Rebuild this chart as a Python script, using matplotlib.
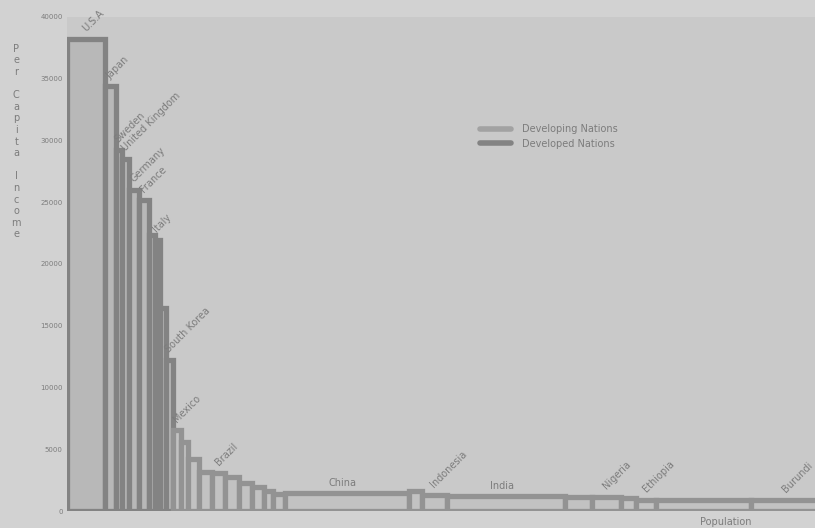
import numpy as np
import matplotlib.pyplot as plt
from matplotlib.lines import Line2D

# population (millions) -> bar width, income per capita -> bar height
countries = ["U.S.A", "Japan", "Sweden", "United Kingdom", "Germany", "France",
             "", "Italy", "", "South Korea", "Mexico", "", "", "", "Brazil",
             "", "", "", "", "", "China", "", "Indonesia", "India", "",
             "Nigeria", "", "Ethiopia", "", "Burundi"]
population = [380, 110, 60, 70, 100, 100, 60, 50, 60, 70, 80, 70, 110, 140, 130,
              140, 130, 120, 90, 120, 1240, 130, 250, 1180, 270, 300, 150, 200,
              950, 700]
income = [38200, 34400, 29200, 28500, 26000, 25200, 22350, 21950, 16400, 12200,
          6550, 5600, 4200, 3150, 3100, 2750, 2250, 1950, 1600, 1400, 1450, 1600,
          1300, 1200, 1150, 1150, 1100, 900, 900, 900]
developed = [1, 1, 1, 1, 1, 1, 1, 1, 1, 1] + [0] * 20
horizontal = ["China", "India"]

yticks = [0, 5000, 10000, 15000, 20000, 25000, 30000, 35000, 40000]

fig_bg = "#d2d2d2"
plot_bg = "#c9c9c9"
dev_edge, dev_face = "#838383", "#b8b8b8"
ing_edge, ing_face = "#939393", "#c2c2c2"
text_col = "#7c7c7c"

fig = plt.figure(figsize=(8.15, 5.28), dpi=100, facecolor=fig_bg)
ax = fig.add_axes([0.082, 0.032, 0.918, 0.936], facecolor=plot_bg)

left = np.concatenate([[0], np.cumsum(population)[:-1]])
for i in range(len(population)):
    edge = dev_edge if developed[i] else ing_edge
    face = dev_face if developed[i] else ing_face
    ax.bar(left[i], income[i], width=population[i], align="edge",
           facecolor=face, edgecolor=edge, linewidth=3.8, zorder=2)

for i, name in enumerate(countries):
    if not name:
        continue
    cx = left[i] + population[i] / 2
    if name in horizontal:
        ax.annotate(name, (cx, income[i]), xytext=(-3, 4), textcoords="offset points",
                    ha="center", va="bottom", fontsize=7, color=text_col)
    else:
        ax.annotate(name, (cx, income[i]), xytext=(1, 4), textcoords="offset points",
                    ha="left", va="bottom", rotation=45, rotation_mode="anchor",
                    fontsize=7, color=text_col)

ax.set_xlim(0, 7500)
ax.set_ylim(0, 40000)
ax.set_yticks(yticks)
ax.set_yticklabels([str(t) for t in yticks], fontsize=5, color=text_col)
ax.set_xticks([])
ax.tick_params(length=0, pad=3)
for s in ax.spines.values():
    s.set_visible(False)

# stacked y label
fig.text(0.02, 0.732, "\n".join("Per Capita Income"), ha="center", va="center",
         fontsize=7, color=text_col, linespacing=1.2)
fig.text(0.89, 0.012, "Population", ha="center", va="center", fontsize=7, color=text_col)

handles = [Line2D([0], [0], color="#a2a2a2", lw=4, solid_capstyle="round"),
           Line2D([0], [0], color="#838383", lw=4, solid_capstyle="round")]
ax.legend(handles, ["Developing Nations", "Developed Nations"], loc="upper left",
          bbox_to_anchor=(0.54, 0.80), frameon=False, fontsize=7, labelcolor=text_col,
          handlelength=3.2, handletextpad=1.2, labelspacing=0.45)

fig.savefig("out.png", dpi=100, facecolor=fig_bg)
